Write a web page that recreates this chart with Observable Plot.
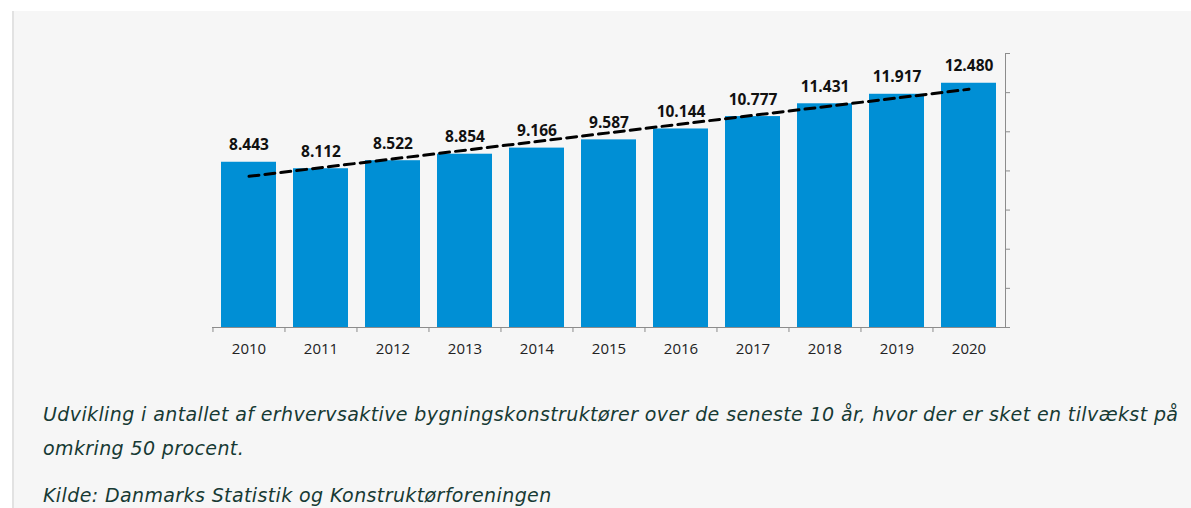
<!DOCTYPE html>
<html><head><meta charset="utf-8">
<script src="https://cdn.jsdelivr.net/npm/d3@7"></script>
<script src="https://cdn.jsdelivr.net/npm/@observablehq/plot@0.6"></script>
<style>
html,body{margin:0;padding:0;background:#fff;width:1191px;height:508px;overflow:hidden;position:relative}
#panel{position:absolute;left:12px;top:11px;right:0;bottom:0;background:#f6f6f6;border-left:2px solid #e2e2e2}
#chart{position:absolute;left:0;top:0}
.cap{position:absolute;left:43px;font-family:"DejaVu Sans",Roboto,sans-serif;font-style:italic;color:#173a34;font-size:19px;line-height:24px;white-space:nowrap}
</style></head>
<body>
<div id="panel"></div>
<div id="chart"></div>
<div class="cap" id="c1" style="top:402px">Udvikling i antallet af erhvervsaktive bygningskonstruktører over de seneste 10 år, hvor der er sket en tilvækst på</div>
<div class="cap" style="top:436px">omkring 50 procent.</div>
<div class="cap" style="top:483px">Kilde: Danmarks Statistik og Konstruktørforeningen</div>
<script>
const years = ["2010","2011","2012","2013","2014","2015","2016","2017","2018","2019","2020"];
const values = [8443, 8112, 8522, 8854, 9166, 9587, 10144, 10777, 11431, 11917, 12480];
const yTicks = [0, 2000, 4000, 6000, 8000, 10000, 12000, 14000];

const data = years.map((y, i) => ({year: y, value: values[i]}));

// least-squares trend line from the data
const n = values.length;
const xm = (n - 1) / 2;
const ym = d3.mean(values);
const slope = d3.sum(values, (v, i) => (i - xm) * (v - ym)) / d3.sum(values, (v, i) => (i - xm) ** 2);
const trend = [
  {year: years[0], value: ym - slope * xm},
  {year: years[n - 1], value: ym + slope * (n - 1 - xm)}
];

const fmt = v => Math.floor(v / 1000) + "." + String(v % 1000).padStart(3, "0");

const W = 1191, mL = 212, mR = 186;
const step = (W - mL - mR) / years.length;

const chart = Plot.plot({
  width: W,
  height: 370,
  marginLeft: mL,
  marginRight: mR,
  marginTop: 53,
  marginBottom: 43,
  style: {background: "transparent", fontFamily: "'Open Sans', sans-serif", color: "#000"},
  x: {domain: years, paddingInner: 0.24, paddingOuter: 0.12, axis: null},
  y: {domain: [0, 14000], axis: null},
  marks: [
    Plot.barY(data, {x: "year", y: "value", fill: "#008fd5"}),
    Plot.ruleY([0], {stroke: "#8c8c8c", strokeWidth: 1}),
    Plot.axisX({tickSize: 5, tickFormat: () => "", dx: -step / 2, stroke: "#8c8c8c", label: null}),
    Plot.axisX({tickSize: 0, tickPadding: 16, fontSize: 15, fill: "#222", label: null}),
    Plot.axisY({anchor: "right", ticks: yTicks, tickSize: 4, tickFormat: () => "", stroke: "#8c8c8c", label: null}),
    Plot.frame({anchor: "right", stroke: "#8c8c8c"}),
    Plot.line(trend, {x: "year", y: "value", stroke: "#000", strokeWidth: 3, strokeDasharray: "10,6"}),
    Plot.text(data, {x: "year", y: "value", text: d => fmt(d.value), dy: -12, lineAnchor: "bottom", fontWeight: "bold", fontSize: 15.5, fill: "#111"})
  ]
});
document.getElementById("chart").appendChild(chart);

// adjust caption letter spacing so the first line spans the same width as in the reference
const c1 = document.getElementById("c1");
const target = 1178 - 43;
const w = c1.getBoundingClientRect().width;
const ls = (target - w) / (c1.textContent.length - 1);
document.querySelectorAll(".cap").forEach(el => el.style.letterSpacing = ls + "px");
</script>
</body></html>
